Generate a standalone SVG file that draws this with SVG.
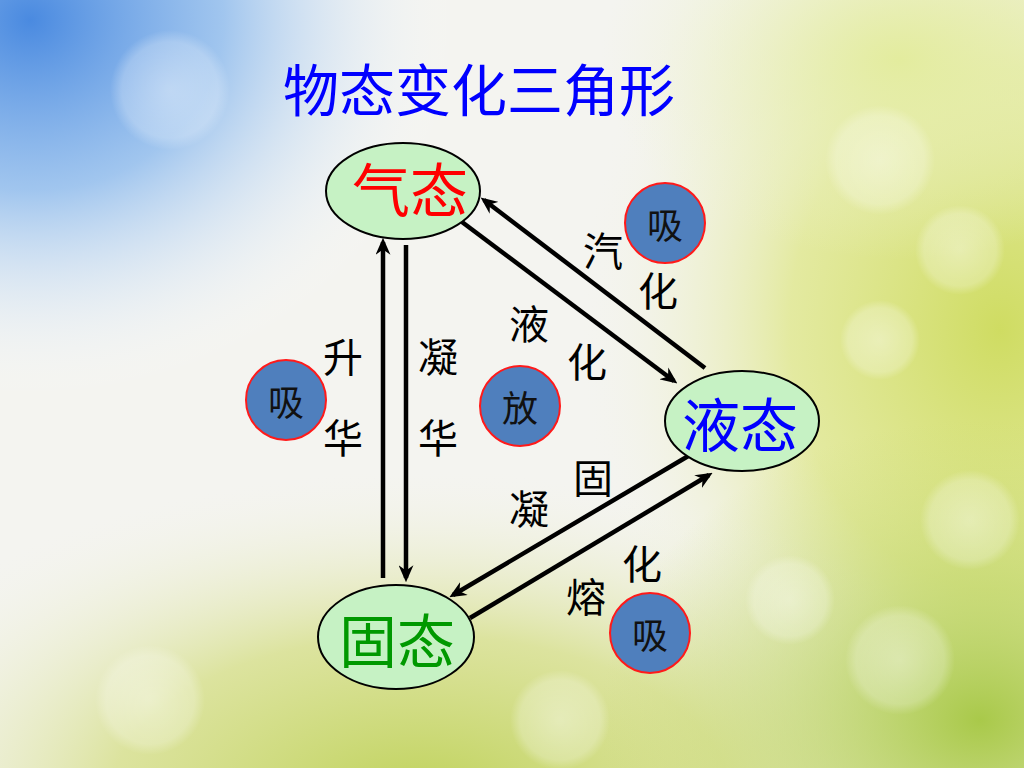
<svg xmlns="http://www.w3.org/2000/svg" width="1024" height="768" viewBox="0 0 1024 768">
  <defs>
    <radialGradient id="gBlue" cx="0" cy="0" r="1" gradientUnits="userSpaceOnUse" gradientTransform="translate(30,20) scale(430,380)">
      <stop offset="0" stop-color="#4a8ae0"/>
      <stop offset="0.45" stop-color="#8cbaee" stop-opacity="0.8"/>
      <stop offset="1" stop-color="#ffffff" stop-opacity="0"/>
    </radialGradient>
    <radialGradient id="gRight" cx="0" cy="0" r="1" gradientUnits="userSpaceOnUse" gradientTransform="translate(1000,330) scale(420,520)">
      <stop offset="0" stop-color="#cfdc62"/>
      <stop offset="0.5" stop-color="#dfe78c" stop-opacity="0.8"/>
      <stop offset="1" stop-color="#f4f4ea" stop-opacity="0"/>
    </radialGradient>
    <radialGradient id="gBottom" cx="0" cy="0" r="1" gradientUnits="userSpaceOnUse" gradientTransform="translate(420,800) scale(620,330)">
      <stop offset="0" stop-color="#bfd25a"/>
      <stop offset="0.5" stop-color="#d6df8a" stop-opacity="0.8"/>
      <stop offset="1" stop-color="#f4f4ea" stop-opacity="0"/>
    </radialGradient>
    <radialGradient id="gBR" cx="0" cy="0" r="1" gradientUnits="userSpaceOnUse" gradientTransform="translate(980,720) scale(380,300)">
      <stop offset="0" stop-color="#a9c94a"/>
      <stop offset="1" stop-color="#c6d86a" stop-opacity="0"/>
    </radialGradient>
    <radialGradient id="gTR" cx="0" cy="0" r="1" gradientUnits="userSpaceOnUse" gradientTransform="translate(900,60) scale(300,200)">
      <stop offset="0" stop-color="#e3ec9e"/>
      <stop offset="1" stop-color="#eef2cf" stop-opacity="0"/>
    </radialGradient>
    <radialGradient id="bokeh" cx="0.5" cy="0.5" r="0.5">
      <stop offset="0" stop-color="#ffffff" stop-opacity="0.4"/>
      <stop offset="0.8" stop-color="#ffffff" stop-opacity="0.25"/>
      <stop offset="1" stop-color="#ffffff" stop-opacity="0"/>
    </radialGradient>
    <marker id="ah" viewBox="0 0 16 14" refX="12" refY="7" markerWidth="17" markerHeight="15" markerUnits="userSpaceOnUse" orient="auto">
      <path d="M0,0 L16,7 L0,14 L5,7 Z" fill="#000"/>
    </marker>
    <style>
      .title { font-family: "Noto Sans CJK SC", "Noto Sans", sans-serif; font-size: 56px; fill: #0000ff; }
      .node { fill: #c6f2c4; stroke: #000; stroke-width: 2; }
      .ntext { font-family: "Noto Sans CJK SC", sans-serif; font-size: 58px; text-anchor: middle; dominant-baseline: central; }
      .badge { fill: #4f7fbd; stroke: #ff1a1a; stroke-width: 2; }
      .btext { font-family: "Noto Sans CJK SC", sans-serif; font-size: 36px; fill: #111; text-anchor: middle; dominant-baseline: central; }
      .label { font-family: "Noto Sans CJK SC", sans-serif; font-size: 40px; fill: #000; text-anchor: middle; dominant-baseline: central; }
      .conn { stroke: #000; stroke-width: 4.5; fill: none; marker-end: url(#ah); }
    </style>
  </defs>

  <g id="background">
    <rect width="1024" height="768" fill="#f4f4f0"/>
    <rect width="1024" height="768" fill="url(#gRight)"/>
    <rect width="1024" height="768" fill="url(#gBottom)"/>
    <rect width="1024" height="768" fill="url(#gBR)"/>
    <rect width="1024" height="768" fill="url(#gTR)"/>
    <rect width="1024" height="768" fill="url(#gBlue)"/>
    <circle cx="880" cy="160" r="55" fill="url(#bokeh)"/>
    <circle cx="960" cy="250" r="45" fill="url(#bokeh)"/>
    <circle cx="880" cy="340" r="40" fill="url(#bokeh)"/>
    <circle cx="970" cy="520" r="50" fill="url(#bokeh)"/>
    <circle cx="900" cy="660" r="55" fill="url(#bokeh)"/>
    <circle cx="790" cy="600" r="45" fill="url(#bokeh)"/>
    <circle cx="150" cy="700" r="55" fill="url(#bokeh)"/>
    <circle cx="560" cy="720" r="50" fill="url(#bokeh)"/>
    <circle cx="170" cy="90" r="60" fill="url(#bokeh)"/>
  </g>

  <text class="title" x="283" y="111">物态变化三角形</text>

  <g id="connectors">
    <path class="conn" d="M383,578 L383,242"/>
    <path class="conn" d="M406,245 L406,578"/>
    <path class="conn" d="M705,368 L484,200"/>
    <path class="conn" d="M462,222 L674,381"/>
    <path class="conn" d="M690,455 L453,595"/>
    <path class="conn" d="M470,618 L709,475"/>
  </g>

  <g id="labels">
    <text class="label" x="343" y="355">升</text>
    <text class="label" x="343" y="436">华</text>
    <text class="label" x="438" y="355">凝</text>
    <text class="label" x="438" y="436">华</text>
    <text class="label" x="603" y="249">汽</text>
    <text class="label" x="658" y="289">化</text>
    <text class="label" x="529" y="322">液</text>
    <text class="label" x="587" y="360">化</text>
    <text class="label" x="593" y="476">固</text>
    <text class="label" x="529" y="507">凝</text>
    <text class="label" x="642" y="562">化</text>
    <text class="label" x="586" y="595">熔</text>
  </g>

  <g id="node-gas">
    <ellipse class="node" cx="403" cy="191" rx="77" ry="48"/>
    <text class="ntext" x="410" y="187" fill="#ff0000">气态</text>
  </g>
  <g id="node-liquid">
    <ellipse class="node" cx="742" cy="421" rx="77" ry="50"/>
    <text class="ntext" x="740" y="422" fill="#0000ff">液态</text>
  </g>
  <g id="node-solid">
    <ellipse class="node" cx="396" cy="637" rx="78" ry="52"/>
    <text class="ntext" x="397" y="638" fill="#009900">固态</text>
  </g>

  <g id="badge-vaporize">
    <circle class="badge" cx="665" cy="223" r="40"/>
    <text class="btext" x="665" y="223">吸</text>
  </g>
  <g id="badge-sublimate">
    <circle class="badge" cx="286" cy="400" r="40"/>
    <text class="btext" x="286" y="400">吸</text>
  </g>
  <g id="badge-release">
    <circle class="badge" cx="520" cy="406" r="40"/>
    <text class="btext" x="520" y="406">放</text>
  </g>
  <g id="badge-melt">
    <circle class="badge" cx="650" cy="633" r="40"/>
    <text class="btext" x="650" y="633">吸</text>
  </g>
</svg>
